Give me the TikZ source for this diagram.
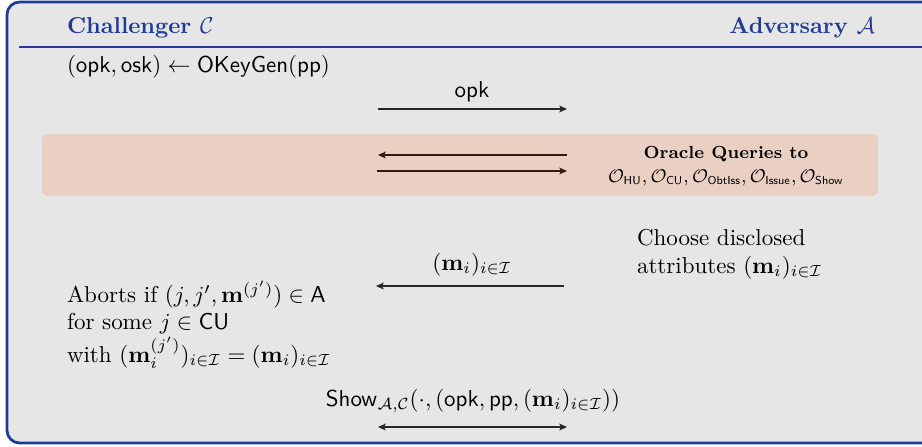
\documentclass[tikz,border=0pt]{standalone}
\usetikzlibrary{arrows.meta}
\definecolor{frameblue}{RGB}{30,60,150}
\definecolor{bandcol}{RGB}{234,208,195}
\definecolor{bandink}{RGB}{50,25,15}
\definecolor{bggray}{RGB}{230,230,230}
\begin{document}
\begin{tikzpicture}[x=0.4348pt,y=-0.4348pt,
  msg/.style={draw=black!85, line width=0.5pt, -{Stealth[length=3.4pt,width=3pt,inset=0.9pt]}},
  bandmsg/.style={msg, draw=bandink},
  txt/.style={inner sep=0pt, outer sep=0pt},
  hdr/.style={txt, text=frameblue, font=\bfseries}]
\useasboundingbox (0,0) rectangle (922,447);
\begin{scope}
  \clip (0,0) rectangle (922,447);
  \draw[frameblue, line width=1.2pt, fill=bggray, rounded corners=5.5pt] (7,2) rectangle (980,443);
\end{scope}
\draw[frameblue, line width=0.9pt] (19,47) -- (922,47);
% headers
\node[hdr, anchor=base west] (chal) at (67,33) {Challenger $\mathcal{C}$};
\node[hdr, anchor=base east] (adv) at (875,33) {Adversary $\mathcal{A}$};
% key generation
\node[txt, anchor=base west] (keygen) at (67,72) {$(\mathsf{opk},\mathsf{osk})\leftarrow\mathsf{OKeyGen}(\mathsf{pp})$};
\coordinate (opkL) at (378,109);
\coordinate (opkR) at (567,109);
\draw[msg] (opkL) -- (opkR);
\node[txt, anchor=base] (opklab) at (472,97) {$\mathsf{opk}$};
% oracle band
\fill[bandcol, rounded corners=2.5pt] (42,134) rectangle (878,196);
\coordinate (o1L) at (378,155);
\coordinate (o1R) at (567,155);
\coordinate (o2L) at (377,171);
\coordinate (o2R) at (567,171);
\draw[bandmsg] (o1R) -- (o1L);
\draw[bandmsg] (o2L) -- (o2R);
\node[txt, align=center, font=\fontsize{7.6}{9.5}\selectfont] (oracle) at (726,166)
  {\textbf{Oracle Queries to}\\[1pt]
   $\mathcal{O}_{\mathsf{HU}},\mathcal{O}_{\mathsf{CU}},\mathcal{O}_{\mathsf{ObtIss}},\mathcal{O}_{\mathsf{Issue}},\mathcal{O}_{\mathsf{Show}}$};
% choose attributes
\node[txt, anchor=base west, align=left] (choose) at (637,273)
  {Choose disclosed\\ attributes $(\mathbf{m}_i)_{i\in\mathcal{I}}$};
\coordinate (mL) at (376,286);
\coordinate (mR) at (564,286);
\draw[msg] (mR) -- (mL);
\node[txt, anchor=base] (mlab) at (472,270) {$(\mathbf{m}_i)_{i\in\mathcal{I}}$};
% abort condition
\node[txt, anchor=base west, align=left] (abort) at (67,362)
  {Aborts if $(j,j',\mathbf{m}^{(j')})\in\mathsf{A}$\\
   for some $j\in\mathsf{CU}$\\
   with $(\mathbf{m}_i^{(j')})_{i\in\mathcal{I}}=(\mathbf{m}_i)_{i\in\mathcal{I}}$};
% show protocol
\node[txt, anchor=base] (showlab) at (473,406)
  {$\mathsf{Show}_{\mathcal{A},\mathcal{C}}(\cdot,(\mathsf{opk},\mathsf{pp},(\mathbf{m}_i)_{i\in\mathcal{I}}))$};
\coordinate (sL) at (378,427);
\coordinate (sR) at (567,427);
\draw[msg, {Stealth[length=3.4pt,width=3pt,inset=0.9pt]}-{Stealth[length=3.4pt,width=3pt,inset=0.9pt]}] (sL) -- (sR);
\end{tikzpicture}
\end{document}
